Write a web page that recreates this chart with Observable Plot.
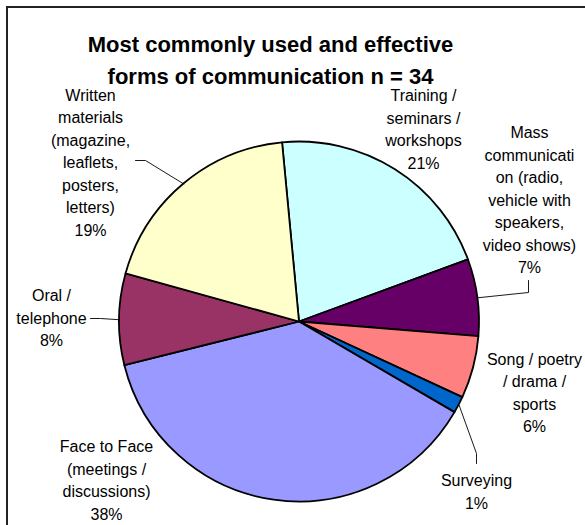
<!DOCTYPE html>
<html>
<head>
<meta charset="utf-8">
<script src="https://cdn.jsdelivr.net/npm/d3@7"></script>
<script src="https://cdn.jsdelivr.net/npm/@observablehq/plot@0.6"></script>
<style>
html, body { margin: 0; padding: 0; background: #fff; }
#wrap { position: relative; width: 585px; height: 525px; overflow: hidden; }
#frame { position: absolute; left: 6px; top: 6px; right: -10px; bottom: -10px;
  border-left: 2px solid #222; border-top: 2px solid #222; pointer-events: none; }
#wrap svg g[aria-label="labels"] text { letter-spacing: 0.5px; }
</style>
</head>
<body>
<div id="wrap"><div id="frame"></div></div>
<script>
// ---- data ----
const categories = [
  "Training / seminars / workshops",
  "Mass communication (radio, vehicle with speakers, video shows)",
  "Song / poetry / drama / sports",
  "Surveying",
  "Face to Face (meetings / discussions)",
  "Oral / telephone",
  "Written materials (magazine, leaflets, posters, letters)"
];
const shares = [20.9, 6.9, 5.6, 1.5, 37.7, 8.2, 19.2];
const percentLabels = ["21%", "7%", "6%", "1%", "38%", "8%", "19%"];
const labelLines = [
  ["Training /", "seminars /", "workshops"],
  ["Mass", "communicati", "on (radio,", "vehicle with", "speakers,", "video shows)"],
  ["Song / poetry", "/ drama /", "sports"],
  ["Surveying"],
  ["Face to Face", "(meetings /", "discussions)"],
  ["Oral /", "telephone"],
  ["Written", "materials", "(magazine,", "leaflets,", "posters,", "letters)"]
];
const titleLines = ["Most commonly used and effective", "forms of communication n = 34"];

// ---- styles / layout ----
const sliceColors = ["#CCFFFF", "#660066", "#FF8080", "#0066CC", "#9999FF", "#993366", "#FFFFCC"];
const R = 180;                       // pie radius in data units (= px)
const startDeg = -5.4;
// label block centres, offsets from pie centre (y downward)
const labelPos = [[124, -194], [230, -123.5], [235, 69.5], [177, 168.5], [-193, 157], [-248, -5.5], [-209, -161]];
// leader lines: fixed points near label, then to slice edge
const leaders = [
  {i: 1, pts: [[229, -41.5], [229, -29.5]]},
  {i: 3, pts: [[177, 141.5], [177, 131.5]]},
  {i: 5, pts: [[-209, -3.5], [-199, -3.5]]},
  {i: 6, pts: [[-164, -161.5], [-154, -161.5]]}
];

const rows = categories.map((c, i) => ({category: c, share: shares[i]}));
const arcs = d3.pie().value(d => d.share).sort(null)
  .startAngle(startDeg * Math.PI / 180)
  .endAngle(2 * Math.PI + startDeg * Math.PI / 180)(rows);

const color = Plot.scale({color: {type: "ordinal", domain: categories, range: sliceColors}});

const labels = categories.map((c, i) => ({
  x: labelPos[i][0], y: labelPos[i][1],
  text: labelLines[i].concat([percentLabels[i]]).join("\n")
}));

const leaderPts = [];
leaders.forEach((L, k) => {
  L.pts.forEach(p => leaderPts.push({id: k, x: p[0], y: p[1]}));
  const a = arcs[L.i];
  const mid = (a.startAngle + a.endAngle) / 2;
  leaderPts.push({id: k, x: R * Math.sin(mid), y: -R * Math.cos(mid)});
});

const W = 585, H = 525, CX = 299, CY = 321.5;

function slices(index, scales) {
  const xs = typeof scales.x === "function" ? scales.x : v => CX + v;
  const ys = typeof scales.y === "function" ? scales.y : v => CY + v;
  const cx = xs(0), cy = ys(0);
  const r = Math.abs(xs(R) - xs(0));
  const arc = d3.arc().innerRadius(0).outerRadius(r);
  const g = d3.create("svg:g").attr("transform", `translate(${cx},${cy})`);
  g.selectAll("path").data(arcs).join("path")
    .attr("d", arc)
    .attr("fill", d => color.apply(d.data.category))
    .attr("stroke", "#000")
    .attr("stroke-width", 1.8)
    .attr("stroke-linejoin", "round");
  return g.node();
}

const plot = Plot.plot({
  width: W, height: H,
  marginLeft: CX - R, marginRight: W - CX - R,
  marginTop: CY - R, marginBottom: H - CY - R,
  style: {fontFamily: "'Liberation Sans', Arial, sans-serif", background: "transparent", color: "#000"},
  x: {domain: [-R, R], axis: null},
  y: {domain: [-R, R], reverse: true, axis: null},
  marks: [
    slices,
    Plot.line(leaderPts, {x: "x", y: "y", z: "id", stroke: "#000", strokeWidth: 0.9}),
    Plot.text(labels, {x: "x", y: "y", text: "text", fontSize: 16, lineHeight: 1.406, fill: "#000", ariaLabel: "labels"}),
    Plot.text([titleLines.join("\n")], {x: () => -29, y: () => -264, text: d => d, fontSize: 22, fontWeight: "bold", lineHeight: 1.45, fill: "#000"})
  ]
});
document.getElementById("wrap").insertBefore(plot, document.getElementById("frame"));
</script>
</body>
</html>
